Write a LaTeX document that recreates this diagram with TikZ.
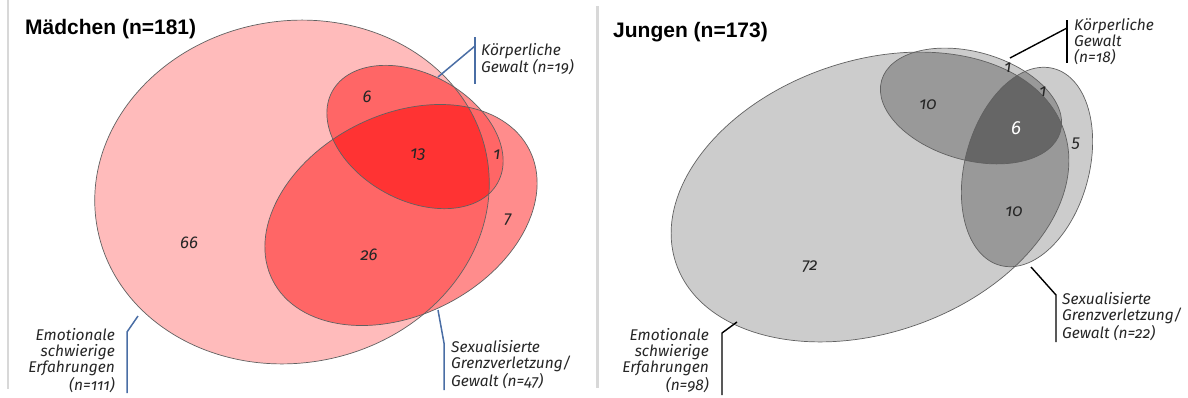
\documentclass[tikz,border=0pt]{standalone}
\usepackage{fontspec}
\setmainfont{Liberation Sans}
\newfontfamily\labfont[Numbers=OldStyle]{Fira Sans}
\definecolor{pk1}{HTML}{FFBBBB}
\definecolor{pk1s}{HTML}{FF8C8C}
\definecolor{pk2}{HTML}{FF6666}
\definecolor{pk3}{HTML}{FF3333}
\definecolor{gr1}{HTML}{CCCCCC}
\definecolor{gr2}{HTML}{999999}
\definecolor{gr3}{HTML}{666666}
\definecolor{leaderblue}{HTML}{4A6EA5}
\definecolor{sepgray}{HTML}{D8D8D8}
\def\emLp{(0,0) ellipse [x radius=198pt, y radius=171pt]}
\def\kpLp{(0,0) ellipse [x radius=94.5pt, y radius=63pt]}
\def\sxLp{(0,0) ellipse [x radius=144pt, y radius=100pt]}
\def\emRp{(0,0) ellipse [x radius=205pt, y radius=136pt]}
\def\kpRp{(0,0) ellipse [x radius=93pt, y radius=54pt]}
\def\sxRp{(0,0) ellipse [x radius=102pt, y radius=62pt]}
\tikzset{
  emL/.style={shift={(292,-192)}, rotate=10},
  kpL/.style={shift={(415,-137)}, rotate=-29},
  sxL/.style={shift={(401,-215)}, rotate=27},
  emR/.style={shift={(870,-197)}, rotate=19},
  kpR/.style={shift={(971,-106)}, rotate=-16},
  sxR/.style={shift={(1027,-167)}, rotate=74.6},
  vennline/.style={draw=black!62, line width=0.7pt},
  leadL/.style={draw=leaderblue, line width=1.5pt},
  leadR/.style={draw=black, line width=1.4pt},
  sepline/.style={draw=sepgray, line width=2.5pt},
  lab/.style={font=\labfont\itshape\fontsize{15.5}{16}\selectfont, inner sep=0pt, text=black!85},
  num/.style={font=\labfont\itshape\fontsize{17}{18}\selectfont, inner sep=0pt, text=black!85},
  ttl/.style={font=\bfseries\fontsize{21}{24}\selectfont, inner sep=0pt, anchor=base west},
}
\begin{document}
\begin{tikzpicture}[x=1pt, y=1pt]
\useasboundingbox (0,0) rectangle (1188,-397);
\fill[white] (0,0) rectangle (1188,-397);
% separators
\draw[sepline] (8,0) -- (8,-389);
\draw[sepline] (597.5,-6) -- (597.5,-388);

% ===== left panel: Maedchen =====
\fill[pk1s, sxL] \sxLp;
\fill[pk1s, kpL] \kpLp;
\fill[pk1, emL] \emLp;
\begin{scope}
  \clip[emL] \emLp;
  \fill[pk2, sxL] \sxLp;
  \fill[pk2, kpL] \kpLp;
\end{scope}
\begin{scope}
  \clip[sxL] \sxLp;
  \fill[pk2, kpL] \kpLp;
\end{scope}
\begin{scope}
  \clip[emL] \emLp;
  \clip[sxL] \sxLp;
  \fill[pk3, kpL] \kpLp;
\end{scope}
\draw[vennline, emL] \emLp;
\draw[vennline, sxL] \sxLp;
\draw[vennline, kpL] \kpLp;

\node[ttl] (tL) at (25,-34.5) {Mädchen (n=181)};

\node[num] (nL6) at (367,-97) {6};
\node[num] (nL13) at (418,-155) {13};
\node[num] (nL1) at (497,-155) {1};
\node[num] (nL7) at (508,-220) {7};
\node[num] (nL66) at (189,-243) {66};
\node[num] (nL26) at (369,-255) {26};

\node[lab, anchor=base west, align=left] (kpLlab) at (481,-72.5) {Körperliche\\Gewalt (n=19)};
\node[lab, anchor=base west, align=left] (sxLlab) at (451,-386) {Sexualisierte\\Grenzverletzung/\\Gewalt (n=47)};
\node[lab, anchor=base east, align=right] (emLlab) at (115,-390) {Emotionale\\schwierige\\Erfahrungen\\(n=111)};

\coordinate (kpLe) at (438,-77);
\coordinate (kpLk) at (475,-46);
\coordinate (kpLb1) at (475,-37);
\coordinate (kpLb2) at (475,-84);
\draw[leadL] (kpLe) -- (kpLk);
\draw[leadL] (kpLb1) -- (kpLb2);

\coordinate (sxLe) at (438,-310);
\coordinate (sxLk) at (444,-343);
\coordinate (sxLb) at (444,-390);
\draw[leadL] (sxLe) -- (sxLk) -- (sxLb);

\coordinate (emLe) at (138,-316);
\coordinate (emLk) at (127,-332);
\coordinate (emLb) at (127,-393);
\draw[leadL] (emLe) -- (emLk) -- (emLb);

% ===== right panel: Jungen =====
\fill[gr1, emR] \emRp;
\fill[gr1, sxR] \sxRp;
\fill[gr1, kpR] \kpRp;
\begin{scope}
  \clip[emR] \emRp;
  \fill[gr2, sxR] \sxRp;
  \fill[gr2, kpR] \kpRp;
\end{scope}
\begin{scope}
  \clip[sxR] \sxRp;
  \fill[gr2, kpR] \kpRp;
\end{scope}
\begin{scope}
  \clip[emR] \emRp;
  \clip[sxR] \sxRp;
  \fill[gr3, kpR] \kpRp;
\end{scope}
\draw[vennline, emR] \emRp;
\draw[vennline, sxR] \sxRp;
\draw[vennline, kpR] \kpRp;

\node[ttl] (tR) at (613,-37) {Jungen (n=173)};

\node[num] (nR1a) at (1008,-68) {1};
\node[num] (nR1b) at (1043,-92) {1};
\node[num] (nR10a) at (928,-105) {10};
\node[num, text=white, font=\labfont\itshape\fontsize{19}{20}\selectfont] (nR6) at (1016,-128) {6};
\node[num] (nR5) at (1076,-144) {5};
\node[num] (nR10b) at (1014,-212) {10};
\node[num] (nR72) at (810,-267) {72};

\node[lab, anchor=base west, align=left] (kpRlab) at (1074,-62) {Körperliche\\Gewalt\\(n=18)};
\node[lab, anchor=base west, align=left] (sxRlab) at (1062,-338) {Sexualisierte\\Grenzverletzung/\\Gewalt (n=22)};
\node[lab, anchor=base east, align=right] (emRlab) at (709,-390) {Emotionale\\schwierige\\Erfahrungen\\(n=98)};

\coordinate (kpRe) at (1010,-58);
\coordinate (kpRk) at (1067,-28);
\coordinate (kpRb1) at (1067,-20);
\coordinate (kpRb2) at (1067,-63);
\draw[leadR] (kpRe) -- (kpRk);
\draw[leadR] (kpRb1) -- (kpRb2);

\coordinate (sxRe) at (1031,-267);
\coordinate (sxRk) at (1056,-295);
\coordinate (sxRb) at (1056,-342);
\draw[leadR] (sxRe) -- (sxRk) -- (sxRb);

\coordinate (emRe) at (737,-322);
\coordinate (emRk) at (722,-333);
\coordinate (emRb) at (722,-395);
\draw[leadR] (emRe) -- (emRk) -- (emRb);
\end{tikzpicture}
\end{document}
